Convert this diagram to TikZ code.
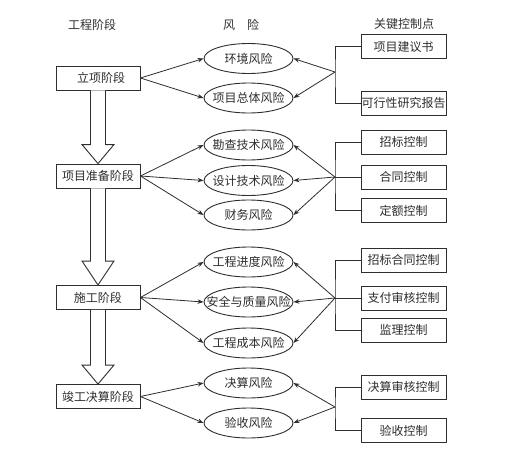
\documentclass[tikz,border=0pt]{standalone}
\usepackage{fontspec}
\setmainfont{Noto Sans CJK SC}
\usetikzlibrary{arrows.meta,shapes.geometric,calc}
\definecolor{ink}{gray}{0.18}
\newcommand\zw[1]{\makebox[0pt]{#1}}
\tikzset{
  base/.style={draw=ink, line width=0.9pt, text=ink, font=\fontsize{12}{14}\selectfont, inner sep=0pt},
  stage/.style={base, minimum width=84pt, minimum height=24pt},
  risk/.style={base, ellipse, minimum width=89pt, minimum height=30pt},
  ctrl/.style={base, minimum width=85pt, minimum height=24pt},
  head/.style={text=ink, font=\fontsize{12}{14}\selectfont},
  arr/.style={draw=ink, line width=0.8pt, -{Stealth[length=6pt,width=4.5pt]}},
  brk/.style={draw=ink, line width=0.9pt},
  block/.style={draw=ink, line width=0.9pt, fill=white, line join=miter}
}
\begin{document}
\begin{tikzpicture}[x=1pt,y=-1pt]
\fill[white] (0,0) rectangle (507,453);
\useasboundingbox (0,0) rectangle (507,453);
% headers
\node[head] (h1) at (92,25) {工程阶段};
\node[head] (h2) at (241,25) {风\hspace{1em}险};
\node[head] (h3) at (404,24) {关键控制点};
% stages
\node[stage] (s1) at (98,78) {\hspace{6pt}立项阶段};
\node[stage] (s2) at (98,176) {项目准备阶段};
\node[stage] (s3) at (98,297.5) {施工阶段};
\node[stage] (s4) at (98,396.5) {竣工决算阶段};
% risks
\node[risk] (r1) at (248.5,58.5) {\zw{环境风险}};
\node[risk] (r2) at (248.5,98) {\zw{项目总体风险}};
\node[risk] (r3) at (248.5,145) {\zw{勘查技术风险}};
\node[risk] (r4) at (248.5,180.5) {\zw{设计技术风险}};
\node[risk] (r5) at (248.5,215) {\zw{财务风险}};
\node[risk] (r6) at (248.5,262) {\zw{工程进度风险}};
\node[risk] (r7) at (248.5,302) {\zw{安全与质量风险}};
\node[risk] (r8) at (248.5,343) {\zw{工程成本风险}};
\node[risk] (r9) at (248.5,383) {\zw{决算风险}};
\node[risk] (r10) at (248.5,423) {\zw{验收风险}};
% controls
\node[ctrl] (c1) at (403.5,46.5) {项目建议书};
\node[ctrl] (c2) at (403.5,103) {可行性研究报告};
\node[ctrl] (c3) at (403.5,142) {招标控制};
\node[ctrl] (c4) at (403.5,177) {合同控制};
\node[ctrl] (c5) at (403.5,210.5) {定额控制};
\node[ctrl] (c6) at (403.5,260) {招标合同控制};
\node[ctrl] (c7) at (403.5,298) {支付审核控制};
\node[ctrl] (c8) at (403.5,330) {监理控制};
\node[ctrl] (c9) at (403.5,387) {决算审核控制};
\node[ctrl] (c10) at (403.5,430.5) {验收控制};
% junctions
\coordinate (j1) at (335,72);
\coordinate (j2) at (335,177);
\coordinate (j3) at (335,298);
\coordinate (j4) at (335,407);
% block arrows between stages
\foreach \a/\b/\h in {s1/s2/19, s2/s3/24, s3/s4/19}{
  \draw[block] ($(\a.south)+(-7.5,0)$) -- ($(\b.north)+(-7.5,-\h)$) -- ($(\b.north)+(-16,-\h)$)
    -- (\b.north) -- ($(\b.north)+(16,-\h)$) -- ($(\b.north)+(7.5,-\h)$) -- ($(\a.south)+(7.5,0)$);
}
% stage -> risk arrows
\draw[arr] (s1.east) -- (r1.west);
\draw[arr] (s1.east) -- (r2.west);
\draw[arr] (s2.east) -- (r3.west);
\draw[arr] (s2.east) -- (r4.west);
\draw[arr] (s2.east) -- (r5.west);
\draw[arr] (s3.east) -- (r6.west);
\draw[arr] (s3.east) -- (r7.west);
\draw[arr] (s3.east) -- (r8.west);
\draw[arr] (s4.east) -- (r9.west);
\draw[arr] (s4.east) -- (r10.west);
% brackets
\draw[brk] (c1.west) -| (j1) |- (c2.west);
\draw[brk] (c3.west) -| (j2) |- (c5.west);
\draw[brk] (c4.west) -- (j2);
\draw[brk] (c6.west) -| (j3) |- (c8.west);
\draw[brk] (c7.west) -- (j3);
\draw[brk] (c9.west) -| (j4) |- (c10.west);
% junction -> risk arrows
\draw[arr] (j1) -- (r1.east);
\draw[arr] (j1) -- (r2.east);
\draw[arr] (j2) -- (r3.east);
\draw[arr] (j2) -- (r4.east);
\draw[arr] (j2) -- (r5.east);
\draw[arr] (j3) -- (r6.east);
\draw[arr] (j3) -- (r7.east);
\draw[arr] (j3) -- (r8.east);
\draw[arr] (j4) -- (r9.east);
\draw[arr] (j4) -- (r10.east);
\end{tikzpicture}
\end{document}
